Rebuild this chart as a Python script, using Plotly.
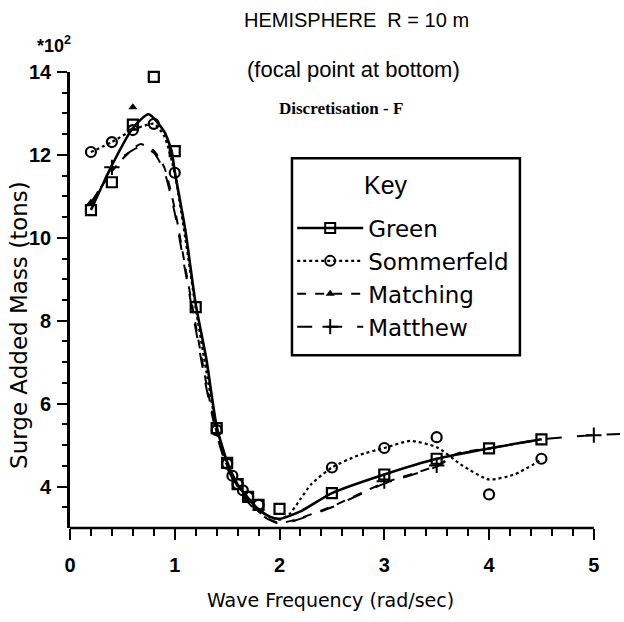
import plotly.graph_objects as go

# ---------------- data ----------------
# Marker points
green_x = [0.2, 0.4, 0.6, 0.8, 1.0, 1.2, 1.4, 1.5, 1.6, 1.7, 1.8, 2.0, 2.5, 3.0, 3.5, 4.0, 4.5]
green_y = [10.67, 11.34, 12.73, 13.88, 12.09, 8.33, 5.41, 4.57, 4.06, 3.75, 3.56, 3.46, 3.84, 4.29, 4.67, 4.92, 5.14]

som_x = [0.2, 0.4, 0.6, 0.8, 1.0, 1.4, 1.5, 1.55, 1.6, 1.65, 1.7, 1.8, 2.5, 3.0, 3.5, 4.0, 4.5]
som_y = [12.07, 12.31, 12.6, 12.75, 11.57, 5.36, 4.55, 4.26, 4.06, 3.91, 3.75, 3.56, 4.46, 4.93, 5.19, 3.81, 4.67]

match_x = [0.2, 0.6]
match_y = [10.85, 13.15]

matthew_x = [0.4, 3.0, 3.5, 5.0]
matthew_y = [11.7, 4.13, 4.51, 5.24]

# Fitted curves (sampled from the drawn lines)
green_cx = [0.2, 0.4, 0.6, 0.75, 0.9, 0.97, 1.0, 1.1, 1.2, 1.3, 1.4, 1.5, 1.6, 1.7, 1.8, 1.9, 2.0, 2.2, 2.5, 3.0, 3.5, 4.0, 4.5]
green_cy = [10.67, 11.75, 12.65, 12.98, 12.56, 12.09, 11.6, 10.2, 8.4, 7.1, 5.45, 4.6, 4.05, 3.72, 3.45, 3.28, 3.22, 3.4, 3.84, 4.29, 4.67, 4.92, 5.14]

som_cx = [0.2, 0.4, 0.6, 0.8, 0.9, 1.0, 1.1, 1.2, 1.3, 1.4, 1.5, 1.6, 1.7, 1.8, 1.9, 2.0, 2.1, 2.2, 2.3, 2.5, 2.75, 3.0, 3.25, 3.5, 3.75, 4.0, 4.25, 4.5]
som_cy = [12.07, 12.31, 12.6, 12.75, 12.45, 11.55, 10.0, 8.3, 6.8, 5.4, 4.55, 4.05, 3.72, 3.45, 3.28, 3.2, 3.35, 3.7, 4.05, 4.46, 4.75, 4.93, 5.1, 4.95, 4.5, 4.17, 4.3, 4.65]

match_cx = [0.2, 0.4, 0.5, 0.67, 0.8, 0.9, 1.0, 1.1, 1.2, 1.3, 1.4, 1.5, 1.6, 1.7, 1.8, 1.9, 2.0, 2.15, 2.5, 3.0, 3.5, 3.7, 4.0, 4.5]
match_cy = [10.85, 11.6, 11.9, 12.26, 12.1, 11.7, 10.7, 9.3, 7.9, 6.5, 5.3, 4.5, 4.0, 3.65, 3.4, 3.22, 3.12, 3.2, 3.52, 4.09, 4.5, 4.8, 4.92, 5.14]

matthew_cx = [0.2, 0.4, 0.5, 0.67, 0.8, 0.9, 1.0, 1.1, 1.2, 1.3, 1.4, 1.5, 1.6, 1.7, 1.8, 1.9, 2.0, 2.15, 2.5, 3.0, 3.5, 3.7, 4.0, 4.5, 5.0, 5.25]
matthew_cy = [10.8, 11.7, 11.95, 12.2, 12.05, 11.6, 10.6, 9.2, 7.8, 6.4, 5.25, 4.45, 3.97, 3.62, 3.37, 3.2, 3.1, 3.18, 3.5, 4.07, 4.48, 4.78, 4.92, 5.14, 5.24, 5.27]

x_ticks = [0, 1, 2, 3, 4, 5]
y_ticks = [4, 6, 8, 10, 12, 14]
x_minor_step = 0.2
y_minor_step = 0.5

FONT = "Liberation Sans"
TFONT = "DejaVu Sans"
INK = "black"

X_RANGE = [0, 5.25]
Y_RANGE = [3, 14]

# minor tick positions (styling only)
n_x = int(round((x_ticks[-1] - x_ticks[0]) / x_minor_step))
minor_x = [round(x_ticks[0] + i * x_minor_step, 3) for i in range(1, n_x)
           if abs(x_ticks[0] + i * x_minor_step - round(x_ticks[0] + i * x_minor_step)) > 1e-6]
n_y = int(round((y_ticks[-1] - Y_RANGE[0]) / y_minor_step))
minor_y = [Y_RANGE[0] + i * y_minor_step for i in range(1, n_y)
           if (Y_RANGE[0] + i * y_minor_step) not in y_ticks]

fig = go.Figure()

# curves
fig.add_trace(go.Scatter(x=green_cx, y=green_cy, mode="lines", line=dict(color=INK, width=2.6, shape="spline", smoothing=0.6), showlegend=False, hoverinfo="skip"))
fig.add_trace(go.Scatter(x=som_cx, y=som_cy, mode="lines", line=dict(color=INK, width=2.2, dash="dot", shape="spline", smoothing=0.6), showlegend=False, hoverinfo="skip"))
fig.add_trace(go.Scatter(x=match_cx, y=match_cy, mode="lines", line=dict(color=INK, width=2.0, dash="dash", shape="spline", smoothing=0.6), showlegend=False, hoverinfo="skip"))
fig.add_trace(go.Scatter(x=matthew_cx, y=matthew_cy, mode="lines", line=dict(color=INK, width=2.0, dash="longdash", shape="spline", smoothing=0.6), showlegend=False, hoverinfo="skip"))

# markers
fig.add_trace(go.Scatter(x=green_x, y=green_y, mode="markers", marker=dict(symbol="square-open", size=10, color=INK, line=dict(width=2.2)), showlegend=False, cliponaxis=False))
fig.add_trace(go.Scatter(x=som_x, y=som_y, mode="markers", marker=dict(symbol="circle-open", size=10, color=INK, line=dict(width=2.2)), showlegend=False, cliponaxis=False))
fig.add_trace(go.Scatter(x=match_x, y=match_y, mode="markers", marker=dict(symbol="triangle-up", size=8, color=INK), showlegend=False, cliponaxis=False))
fig.add_trace(go.Scatter(x=matthew_x, y=matthew_y, mode="markers", marker=dict(symbol="cross-thin-open", size=11, color=INK, line=dict(width=2, color=INK)), showlegend=False, cliponaxis=False))

# legend entries
legend_styles = [
    ("Green", dict(color=INK, width=2.6), dict(symbol="square-open", size=10, color=INK, line=dict(width=2))),
    ("Sommerfeld", dict(color=INK, width=2.2, dash="dot"), dict(symbol="circle-open", size=10, color=INK, line=dict(width=2))),
    ("Matching", dict(color=INK, width=2.0, dash="dash"), dict(symbol="triangle-up", size=8, color=INK)),
    ("Matthew", dict(color=INK, width=2.0, dash="longdash"), dict(symbol="cross-thin-open", size=11, color=INK, line=dict(width=2, color=INK))),
]
for name, ln, mk in legend_styles:
    fig.add_trace(go.Scatter(x=[None], y=[None], mode="lines+markers", name=name, line=ln, marker=mk))

# empty trace to activate the overlay axes that carry the minor ticks
fig.add_trace(go.Scatter(x=[None], y=[None], xaxis="x2", yaxis="y2", showlegend=False, hoverinfo="skip"))

# x axis line (stops at 5)
fig.add_shape(type="line", xref="x", yref="paper", x0=x_ticks[0], x1=x_ticks[-1], y0=0, y1=0, line=dict(color=INK, width=2.6))
# key box
fig.add_shape(type="rect", xref="paper", yref="paper", x0=0.4036, x1=0.818, y0=0.379, y1=0.811,
              line=dict(color=INK, width=2.5), fillcolor="rgba(0,0,0,0)", layer="above")

fig.update_layout(
    width=624, height=622,
    margin=dict(l=70, r=4, t=72, b=94),
    paper_bgcolor="white", plot_bgcolor="white",
    font=dict(family=FONT, color=INK),
    xaxis=dict(range=X_RANGE, showgrid=False, zeroline=False, showline=False,
               tickmode="array", tickvals=x_ticks, ticktext=[str(v) for v in x_ticks],
               ticks="outside", ticklen=11, tickwidth=2.4, tickcolor=INK,
               tickfont=dict(size=20, family=FONT, weight="bold"), ticklabelstandoff=8),
    yaxis=dict(range=Y_RANGE, showgrid=False, zeroline=False, showline=True, linewidth=2.6, linecolor=INK,
               tickmode="array", tickvals=y_ticks, ticktext=[str(v) for v in y_ticks],
               ticks="outside", ticklen=10, tickwidth=2.4, tickcolor=INK,
               tickfont=dict(size=20, family=FONT, weight="bold"), ticklabelstandoff=2),
    xaxis2=dict(range=X_RANGE, overlaying="x", anchor="y", side="bottom", showgrid=False, zeroline=False,
                showline=False, tickmode="array", tickvals=minor_x, showticklabels=False,
                ticks="outside", ticklen=7, tickwidth=2, tickcolor=INK, fixedrange=True),
    yaxis2=dict(range=Y_RANGE, overlaying="y", anchor="x", side="left", showgrid=False, zeroline=False,
                showline=False, tickmode="array", tickvals=minor_y, showticklabels=False,
                ticks="outside", ticklen=7, tickwidth=2, tickcolor=INK, fixedrange=True),
    legend=dict(x=0.404, y=0.705, xanchor="left", yanchor="top",
                borderwidth=0, bgcolor="rgba(0,0,0,0)",
                font=dict(size=23, family=TFONT, color=INK), itemwidth=66),
    annotations=[
        dict(text="Key", xref="paper", yref="paper", x=0.575, y=0.752, showarrow=False,
             font=dict(size=25, family=FONT), xanchor="center", yanchor="middle"),
        dict(text="HEMISPHERE  R = 10 m", xref="paper", yref="paper", x=0.52, y=1.114, showarrow=False,
             font=dict(size=20, family=FONT), xanchor="center", yanchor="middle"),
        dict(text="(focal point at bottom)", xref="paper", yref="paper", x=0.515, y=1.005, showarrow=False,
             font=dict(size=22, family=FONT), xanchor="center", yanchor="middle"),
        dict(text="<b>Discretisation - F</b>", xref="paper", yref="paper", x=0.493, y=0.92, showarrow=False,
             font=dict(size=17, family="Liberation Serif"), xanchor="center", yanchor="middle"),
        dict(text="*10<sup>2</sup>", xref="paper", yref="paper", x=-0.03, y=1.06, showarrow=False,
             font=dict(size=18, family=FONT, weight="bold"), xanchor="center", yanchor="middle"),
        dict(text="Surge Added Mass (tons)", xref="paper", yref="paper", x=-0.093, y=0.445, showarrow=False,
             textangle=-90, font=dict(size=23, family=TFONT), xanchor="center", yanchor="middle"),
        dict(text="Wave Frequency (rad/sec)", xref="paper", yref="paper", x=0.473, y=-0.158, showarrow=False,
             font=dict(size=19, family=TFONT), xanchor="center", yanchor="middle"),
    ],
)

fig.write_html("out.html")
